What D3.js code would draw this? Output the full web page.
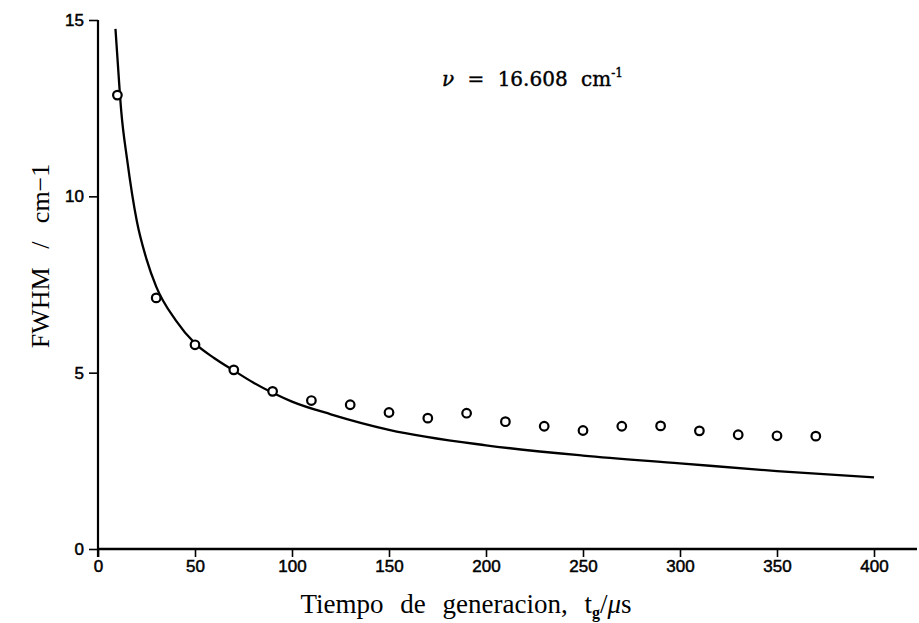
<!DOCTYPE html>
<html>
<head>
<meta charset="utf-8">
<script src="https://cdn.jsdelivr.net/npm/d3@7"></script>
<style>
  html, body { margin: 0; padding: 0; background: #fff; }
  svg { display: block; }
</style>
</head>
<body>
<svg id="chart" width="919" height="623"></svg>
<script>
// Measured FWHM at each generation time (µs)
const timeValues = [10, 30, 50, 70, 90, 110, 130, 150, 170, 190, 210, 230, 250, 270, 290, 310, 330, 350, 370];
const fwhmValues = [12.87, 7.12, 5.79, 5.08, 4.47, 4.21, 4.09, 3.87, 3.71, 3.85, 3.61, 3.48, 3.36, 3.48, 3.49, 3.35, 3.24, 3.21, 3.20];

// Fitted curve, sampled along the time axis
const fitTime = [9, 10, 12, 15, 20, 25, 30, 40, 50, 60, 70, 80, 90, 100, 120, 150, 200, 250, 300, 350, 400];
const fitFwhm = [14.75, 13.94, 12.4, 11.05, 9.3, 8.22, 7.44, 6.49, 5.83, 5.41, 5.06, 4.72, 4.43, 4.18, 3.82, 3.38, 2.94, 2.65, 2.43, 2.21, 2.03];

const xTicks = [0, 50, 100, 150, 200, 250, 300, 350, 400];
const yTicks = [0, 5, 10, 15];

const svg = d3.select("#chart");
const plotLeft = 98, plotBottom = 549, plotTop = 20, plotRight = 874;

const x = d3.scaleLinear().domain([0, 400]).range([plotLeft, plotRight]);
const y = d3.scaleLinear().domain([0, 15]).range([plotBottom, plotTop]);

// Axes
const xAxis = svg.append("g")
  .attr("transform", `translate(0,${plotBottom})`)
  .call(d3.axisBottom(x).tickValues(xTicks).tickSize(8).tickSizeOuter(0).tickPadding(3));
xAxis.select(".domain").remove();
svg.append("line")
  .attr("x1", plotLeft).attr("x2", 917).attr("y1", plotBottom).attr("y2", plotBottom)
  .attr("stroke", "#000").attr("stroke-width", 2.5);

const yAxis = svg.append("g")
  .attr("transform", `translate(${plotLeft},0)`)
  .call(d3.axisLeft(y).tickValues(yTicks).tickSize(9).tickSizeOuter(0).tickPadding(5));
yAxis.select(".domain").remove();
svg.append("line")
  .attr("x1", plotLeft).attr("x2", plotLeft).attr("y1", plotTop).attr("y2", plotBottom + 8)
  .attr("stroke", "#000").attr("stroke-width", 2.2);

svg.selectAll(".tick line").attr("stroke", "#000").attr("stroke-width", 1.6);
svg.selectAll(".tick text")
  .attr("fill", "#000")
  .attr("stroke", "#000")
  .attr("stroke-width", 0.5)
  .style("font-family", "'Liberation Sans', Arial, sans-serif")
  .style("font-size", "17px");

// Fitted curve
const line = d3.line()
  .x((d, i) => x(fitTime[i]))
  .y((d, i) => y(fitFwhm[i]))
  .curve(d3.curveMonotoneX);
svg.append("path")
  .datum(fitFwhm)
  .attr("d", line)
  .attr("fill", "none")
  .attr("stroke", "#000")
  .attr("stroke-width", 2.3);

// Measured points
svg.append("g").selectAll("circle")
  .data(fwhmValues)
  .join("circle")
  .attr("cx", (d, i) => x(timeValues[i]))
  .attr("cy", d => y(d))
  .attr("r", 4.3)
  .attr("fill", "#fff")
  .attr("stroke", "#000")
  .attr("stroke-width", 2.2);

// Axis titles
svg.append("text")
  .attr("x", 466).attr("y", 613)
  .attr("text-anchor", "middle")
  .attr("fill", "#000")
  .style("font-family", "'Liberation Serif', 'Times New Roman', serif")
  .style("font-size", "27px")
  .style("word-spacing", "10px")
  .html('Tiempo de generacion, t<tspan dy="5" font-size="16" font-weight="bold">g</tspan><tspan dy="-5">/</tspan><tspan font-style="italic">μ</tspan>s');

svg.append("text")
  .attr("transform", "translate(49,256) rotate(-90)")
  .attr("text-anchor", "middle")
  .attr("fill", "#000")
  .style("font-family", "'Liberation Serif', 'Times New Roman', serif")
  .style("font-size", "26px")
  .style("word-spacing", "12px")
  .text("FWHM / cm−1");

// Frequency annotation
svg.append("text")
  .attr("x", 442).attr("y", 86)
  .attr("fill", "#000")
  .attr("stroke", "#000")
  .attr("stroke-width", 0.4)
  .style("font-family", "'DejaVu Serif', serif")
  .style("font-size", "20px")
  .style("word-spacing", "7px")
  .html('<tspan font-style="italic">ν</tspan> = 16.608 cm<tspan dy="-9" font-size="12">-1</tspan>');
</script>
</body>
</html>
